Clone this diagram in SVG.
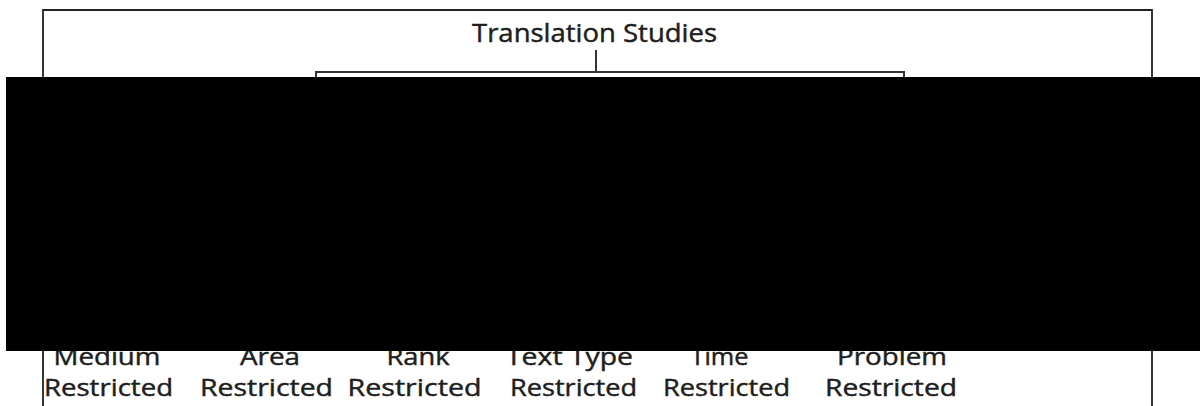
<svg xmlns="http://www.w3.org/2000/svg" width="1200" height="406" viewBox="0 0 1200 406">
<style>
.t{font-family:"Open Sans","Liberation Sans",sans-serif;fill:#1e1e1e;stroke:#1e1e1e;stroke-width:0.45;text-anchor:middle}
.big{font-size:26px}
.lab{font-size:24.5px}
.ln{stroke:#333;stroke-width:2;fill:none}
</style>
<rect x="0" y="0" width="1200" height="406" fill="#fff"/>
<path d="M43 410 V10 H1152 V410" fill="none" stroke="#222" stroke-width="1.8"/>
<g id="root">
<text class="t big" x="594.5" y="41.5" textLength="245" lengthAdjust="spacingAndGlyphs">Translation Studies</text>
</g>
<g id="connectors">
<path class="ln" d="M596 50 V72"/>
<path class="ln" d="M316 80 V72 H904 V80"/>
</g>
<g id="n-medium"><text class="t lab" x="107" y="364.5" textLength="107" lengthAdjust="spacingAndGlyphs">Medium</text><text class="t lab" x="108.5" y="396" textLength="129" lengthAdjust="spacingAndGlyphs">Restricted</text></g>
<g id="n-area"><text class="t lab" x="270" y="364.5" textLength="60" lengthAdjust="spacingAndGlyphs">Area</text><text class="t lab" x="266.5" y="396" textLength="133" lengthAdjust="spacingAndGlyphs">Restricted</text></g>
<g id="n-rank"><text class="t lab" x="418" y="364.5" textLength="63" lengthAdjust="spacingAndGlyphs">Rank</text><text class="t lab" x="414.5" y="396" textLength="134" lengthAdjust="spacingAndGlyphs">Restricted</text></g>
<g id="n-texttype"><text class="t lab" x="569.5" y="364.5" textLength="127" lengthAdjust="spacingAndGlyphs">Text Type</text><text class="t lab" x="573.5" y="396" textLength="127" lengthAdjust="spacingAndGlyphs">Restricted</text></g>
<g id="n-time"><text class="t lab" x="719.5" y="364.5" textLength="58" lengthAdjust="spacingAndGlyphs">Time</text><text class="t lab" x="726.5" y="396" textLength="127" lengthAdjust="spacingAndGlyphs">Restricted</text></g>
<g id="n-problem"><text class="t lab" x="892" y="364.5" textLength="110" lengthAdjust="spacingAndGlyphs">Problem</text><text class="t lab" x="891" y="396" textLength="132" lengthAdjust="spacingAndGlyphs">Restricted</text></g>
<rect x="6" y="77" width="1194" height="274" fill="#000"/>
</svg>
